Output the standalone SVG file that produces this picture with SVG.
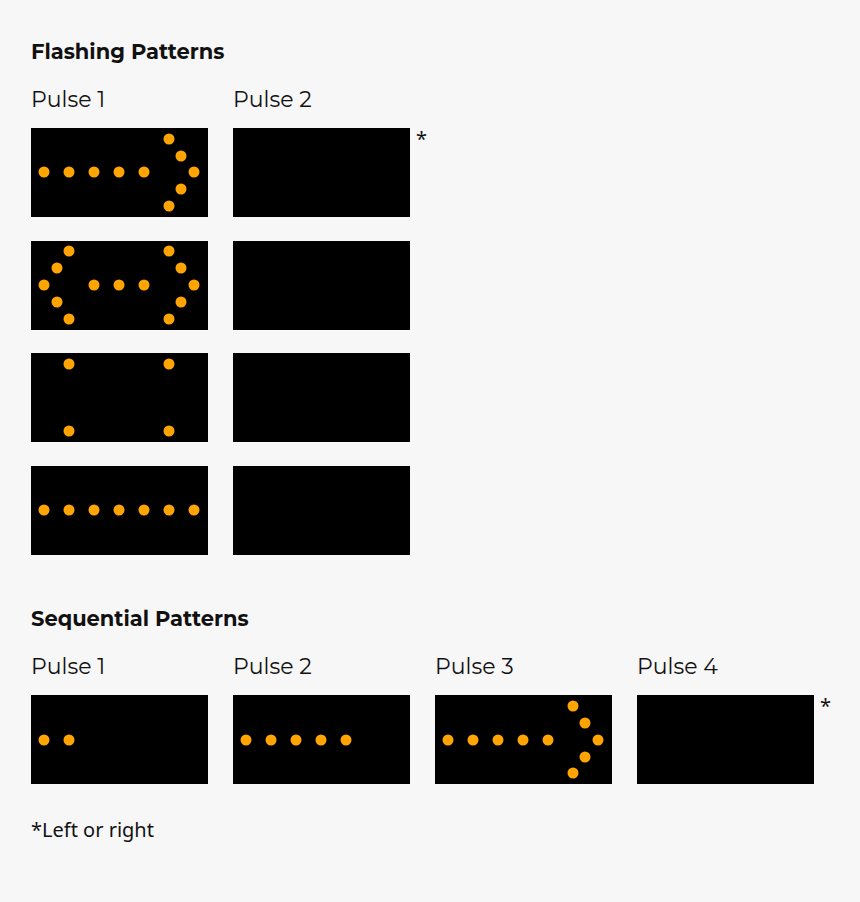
<svg xmlns="http://www.w3.org/2000/svg" width="860" height="902" viewBox="0 0 860 902">
<style>
.b{fill:#000}
.d{fill:#ffa400}
.h{font-family:"Montserrat","Noto Sans","Liberation Sans",sans-serif;font-weight:bold;font-size:21px;fill:#111}
.t{font-family:"Montserrat","Noto Sans","Liberation Sans",sans-serif;font-size:22px;fill:#111}
.s{font-family:"Noto Sans","Liberation Sans",sans-serif;font-size:20px;fill:#111}
</style>
<defs><circle id="c" r="5.5" class="d"/></defs>
<rect width="860" height="902" fill="#f7f7f7"/>
<text class="h" x="31" y="59">Flashing Patterns</text>
<text class="t" x="31" y="107">Pulse 1</text>
<text class="t" x="233" y="107">Pulse 2</text>
<text class="s" x="416" y="146">*</text>
<g id="flash1">
<rect class="b" x="31" y="128" width="177" height="89"/>
<rect class="b" x="233" y="128" width="177" height="89"/>
<use href="#c" x="44" y="172"/><use href="#c" x="69" y="172"/><use href="#c" x="94" y="172"/><use href="#c" x="119" y="172"/><use href="#c" x="144" y="172"/>
<use href="#c" x="169" y="139"/><use href="#c" x="181" y="156"/><use href="#c" x="194" y="172"/><use href="#c" x="181" y="189"/><use href="#c" x="169" y="206"/>
</g>
<g id="flash2">
<rect class="b" x="31" y="241" width="177" height="89"/>
<rect class="b" x="233" y="241" width="177" height="89"/>
<use href="#c" x="69" y="251"/><use href="#c" x="57" y="268"/><use href="#c" x="44" y="285"/><use href="#c" x="57" y="302"/><use href="#c" x="69" y="319"/>
<use href="#c" x="94" y="285"/><use href="#c" x="119" y="285"/><use href="#c" x="144" y="285"/>
<use href="#c" x="169" y="251"/><use href="#c" x="181" y="268"/><use href="#c" x="194" y="285"/><use href="#c" x="181" y="302"/><use href="#c" x="169" y="319"/>
</g>
<g id="flash3">
<rect class="b" x="31" y="353" width="177" height="89"/>
<rect class="b" x="233" y="353" width="177" height="89"/>
<use href="#c" x="69" y="364"/><use href="#c" x="69" y="431"/><use href="#c" x="169" y="364"/><use href="#c" x="169" y="431"/>
</g>
<g id="flash4">
<rect class="b" x="31" y="466" width="177" height="89"/>
<rect class="b" x="233" y="466" width="177" height="89"/>
<use href="#c" x="44" y="510"/><use href="#c" x="69" y="510"/><use href="#c" x="94" y="510"/><use href="#c" x="119" y="510"/><use href="#c" x="144" y="510"/><use href="#c" x="169" y="510"/><use href="#c" x="194" y="510"/>
</g>
<text class="h" x="31" y="626">Sequential Patterns</text>
<text class="t" x="31" y="674">Pulse 1</text>
<text class="t" x="233" y="674">Pulse 2</text>
<text class="t" x="435" y="674">Pulse 3</text>
<text class="t" x="637" y="674">Pulse 4</text>
<text class="s" x="820" y="713">*</text>
<g id="seq">
<rect class="b" x="31" y="695" width="177" height="89"/>
<rect class="b" x="233" y="695" width="177" height="89"/>
<rect class="b" x="435" y="695" width="177" height="89"/>
<rect class="b" x="637" y="695" width="177" height="89"/>
<use href="#c" x="44" y="740"/><use href="#c" x="69" y="740"/>
<use href="#c" x="246" y="740"/><use href="#c" x="271" y="740"/><use href="#c" x="296" y="740"/><use href="#c" x="321" y="740"/><use href="#c" x="346" y="740"/>
<use href="#c" x="448" y="740"/><use href="#c" x="473" y="740"/><use href="#c" x="498" y="740"/><use href="#c" x="523" y="740"/><use href="#c" x="548" y="740"/>
<use href="#c" x="573" y="706"/><use href="#c" x="585" y="723"/><use href="#c" x="598" y="740"/><use href="#c" x="585" y="757"/><use href="#c" x="573" y="773"/>
</g>
<text class="s" x="31" y="837">*Left or right</text>
</svg>
